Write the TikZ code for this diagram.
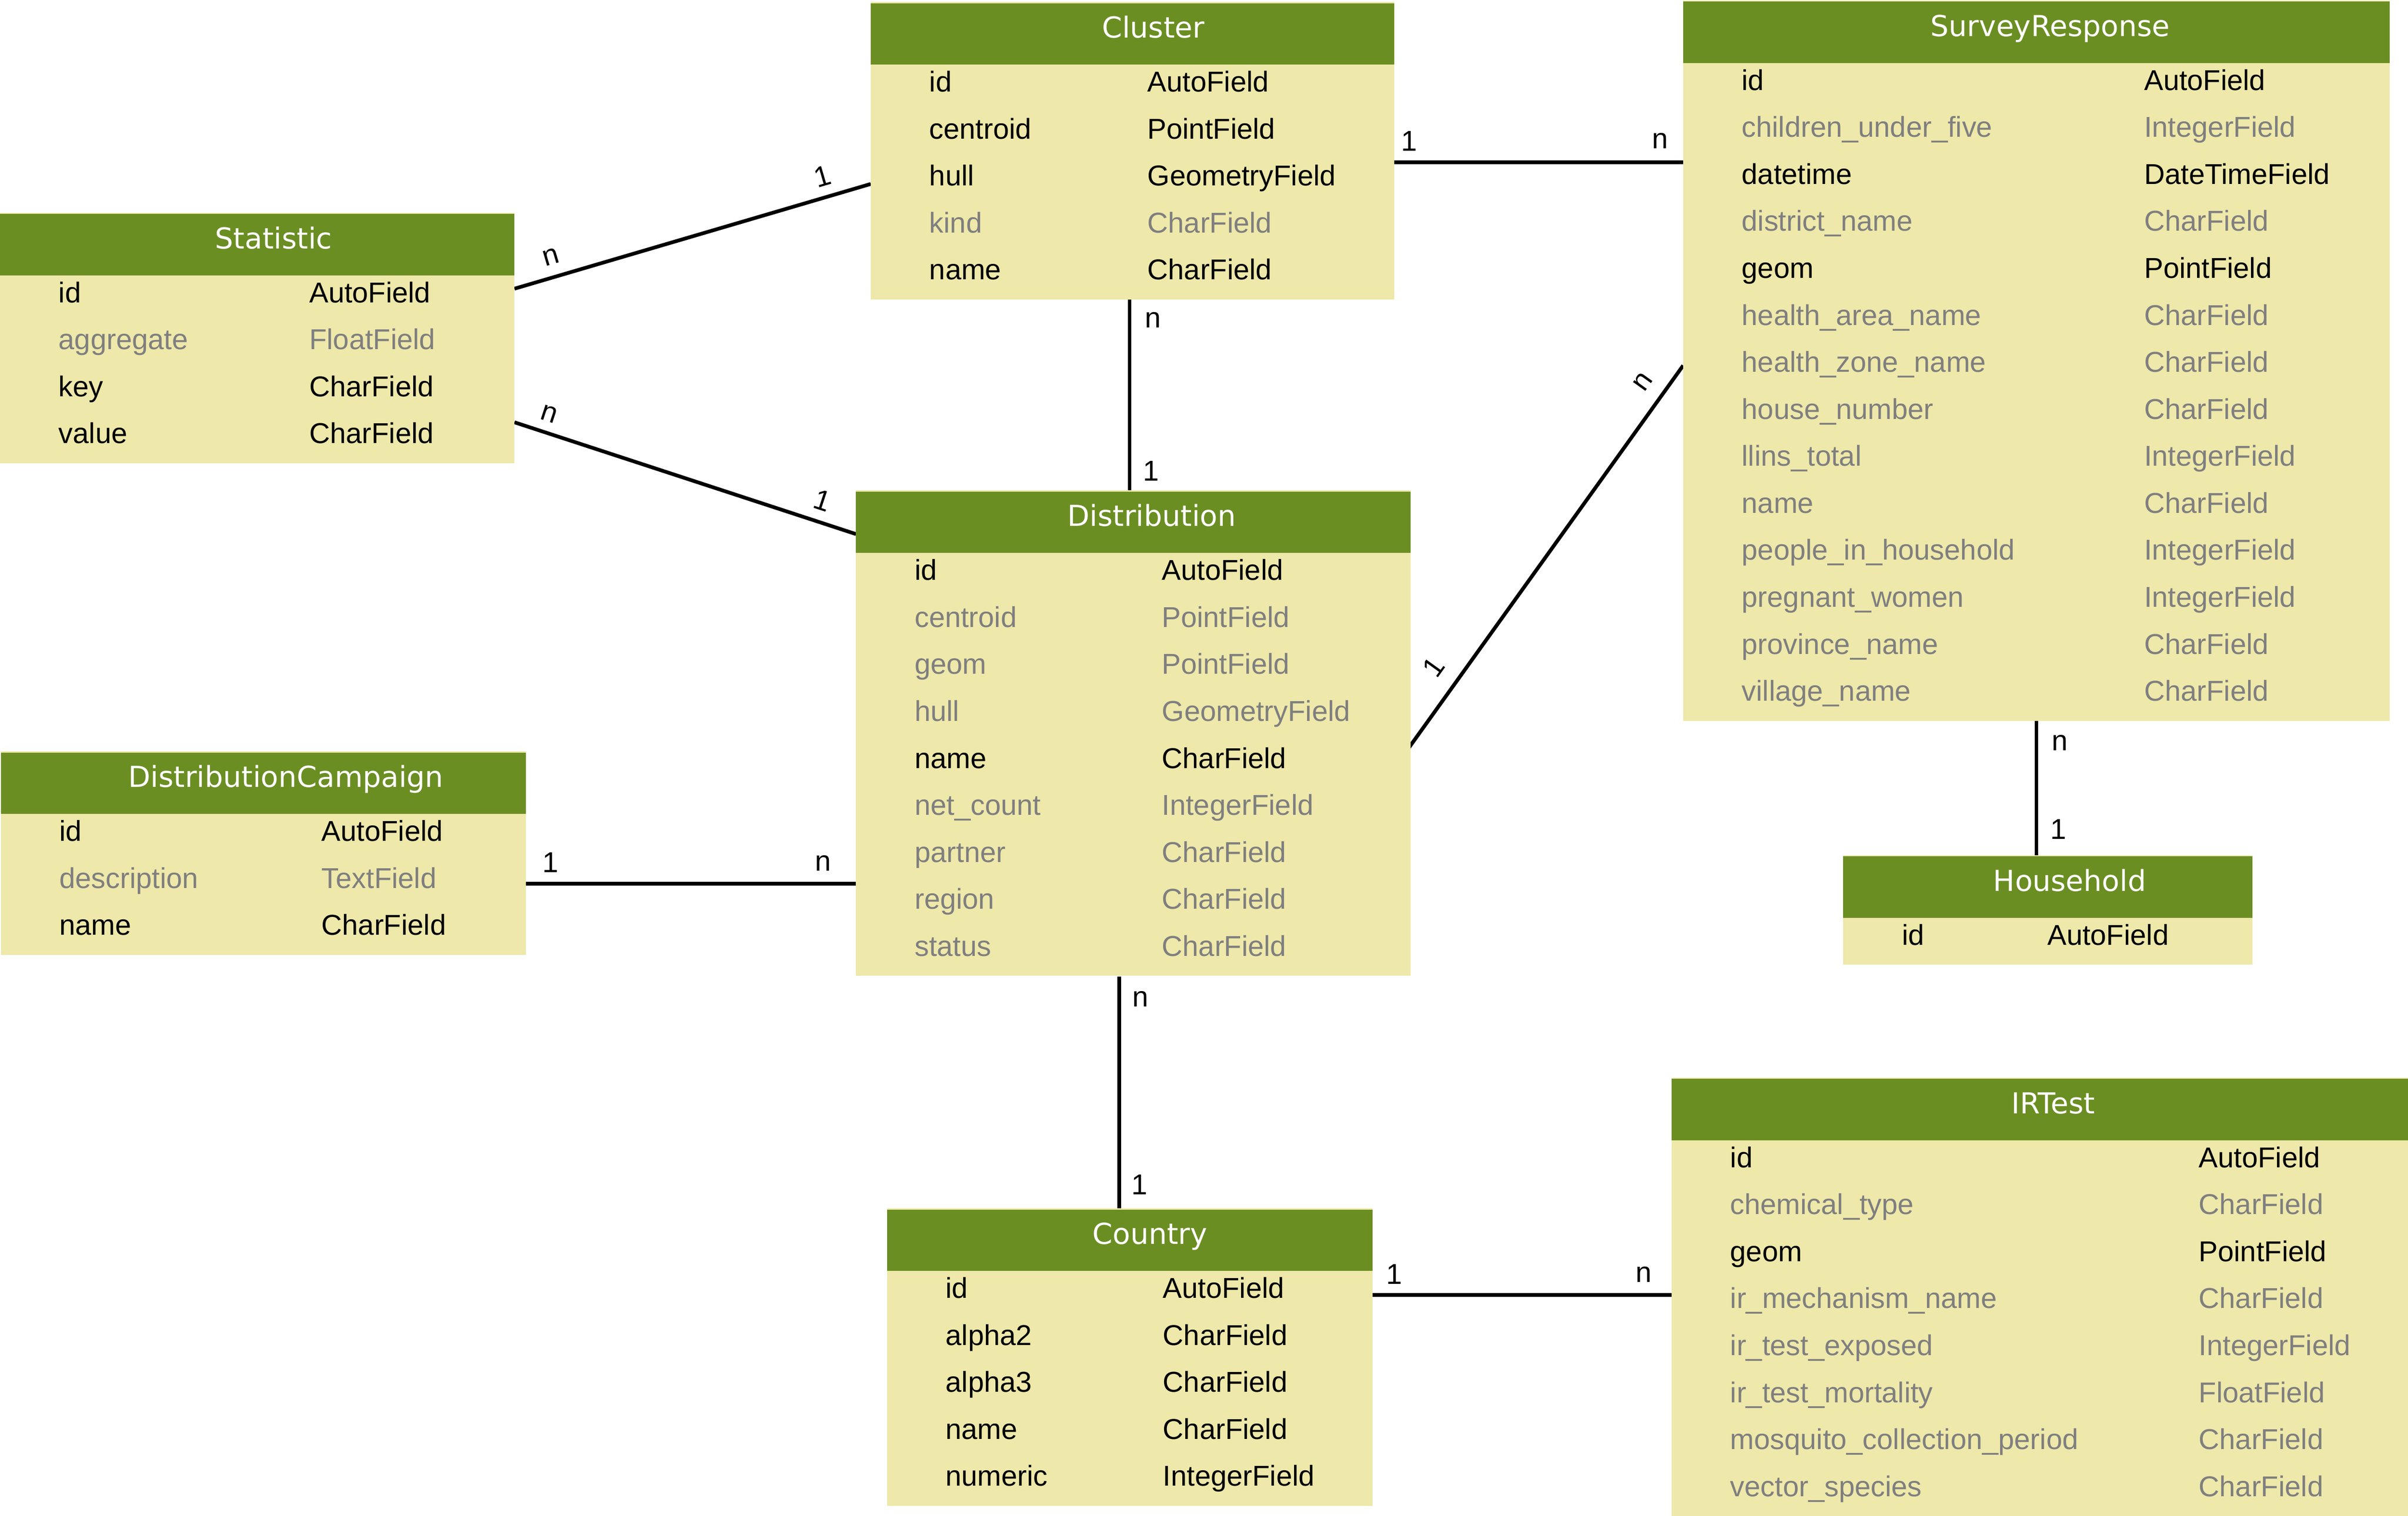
\documentclass[tikz,border=0pt]{standalone}
\usepackage{fontspec}
\setmainfont{Liberation Sans}
\newfontfamily\hdrfont{DejaVu Sans}
\definecolor{hdr}{HTML}{6B8E23}
\definecolor{bdy}{HTML}{EEE8AA}
\definecolor{gry}{HTML}{7F7F7F}
\tikzset{
  tbody/.style={fill=bdy, draw=none, inner sep=0pt, outer sep=0pt, anchor=north west},
  thead/.style={fill=hdr, draw=none, inner sep=0pt, outer sep=0pt, anchor=north west, minimum height=40pt},
  htext/.style={text=white, font=\hdrfont\fontsize{18.8}{22}\selectfont, inner sep=0pt, anchor=base},
  ftext/.style={font=\fontsize{18.7}{22}\selectfont, inner sep=0pt, anchor=base west},
  conn/.style={line width=2.4pt, draw=black},
  card/.style={font=\fontsize{18.7}{22}\selectfont, inner sep=0pt, text=black},
}
% #1 name, #2 x, #3 top, #4 width, #5 rows, #6 title, #7 title centre x
\newcommand\ertable[7]{%
  \node[tbody, minimum width=#4pt, minimum height={(40.8+30.6*#5)*1pt}] (#1) at (#2,{#3-0.8}) {};
  \node[thead, minimum width=#4pt] (#1-head) at (#2,#3) {};
  \node[htext] (#1-title) at (#7,{#3+22.6}) {#6};
}
% #1 name, #2 x, #3 top, #4 type column x, #5 list
\newcommand\errows[5]{%
  \foreach \fn/\ft/\fc [count=\k from 0] in {#5} {
    \node[ftext, text=\fc] (#1-f\k) at ({#2+38},{#3+57.7+30.6*\k}) {\fn};
    \node[ftext, text=\fc] (#1-t\k) at (#4,{#3+57.7+30.6*\k}) {\ft};
  }
}
\begin{document}
\begin{tikzpicture}[x=1pt,y=-1pt]
\useasboundingbox (0,0) rectangle (1568,987);
\clip (0,0) rectangle (1568,987);
\fill[white] (0,0) rectangle (1568,987);

% ---------- connectors ----------
\coordinate (sc1) at (335,188);     \coordinate (sc2) at (567,119.8);
\coordinate (sd1) at (335,275);     \coordinate (sd2) at (557.4,347.8);
\coordinate (cd1) at (735.5,195);   \coordinate (cd2) at (735.5,320.1);
\coordinate (cs1) at (907,105.7);   \coordinate (cs2) at (1096,105.7);
\coordinate (ds1) at (917.5,486.8); \coordinate (ds2) at (1096,238);
\coordinate (pd1) at (342.5,575.5); \coordinate (pd2) at (557.4,575.5);
\coordinate (dc1) at (728.8,636);   \coordinate (dc2) at (728.8,787.6);
\coordinate (sh1) at (1326,469);    \coordinate (sh2) at (1326,557.6);
\coordinate (ci1) at (893.6,843.2); \coordinate (ci2) at (1088.5,843.2);

\draw[conn] (sc1) -- (sc2);
\draw[conn] (sd1) -- (sd2);
\draw[conn] (cd1) -- (cd2);
\draw[conn] (cs1) -- (cs2);
\draw[conn] (ds1) -- (ds2);
\draw[conn] (pd1) -- (pd2);
\draw[conn] (dc1) -- (dc2);
\draw[conn] (sh1) -- (sh2);
\draw[conn] (ci1) -- (ci2);

\node[card, rotate=16.4]  (l-sc-n) at (358.7,167.4) {n};
\node[card, rotate=16.4]  (l-sc-1) at (535.5,114.7) {1};
\node[card, rotate=-18.2] (l-sd-n) at (357.5,269.5) {n};
\node[card, rotate=-18.2] (l-sd-1) at (535.5,326) {1};
\node[card] (l-cd-n) at (750.8,208.5) {n};
\node[card] (l-cd-1) at (749.6,306.6) {1};
\node[card] (l-cs-1) at (917.7,91.8) {1};
\node[card] (l-cs-n) at (1081,91.8) {n};
\node[card, rotate=54.3] (l-ds-n) at (1069.8,248.7) {n};
\node[card, rotate=54.3] (l-ds-1) at (933.4,434.4) {1};
\node[card] (l-pd-1) at (358.5,561.8) {1};
\node[card] (l-pd-n) at (536,562) {n};
\node[card] (l-dc-n) at (742.7,650.5) {n};
\node[card] (l-dc-1) at (741.9,771.4) {1};
\node[card] (l-sh-n) at (1341.2,483.6) {n};
\node[card] (l-sh-1) at (1340.4,540) {1};
\node[card] (l-ci-1) at (907.8,829.8) {1};
\node[card] (l-ci-n) at (1070.3,829.8) {n};

% ---------- tables ----------
\ertable{stat}{0}{139.3}{335}{4}{Statistic}{178.2}
\errows{stat}{0}{139.3}{201.2}{id/AutoField/black, aggregate/FloatField/gry, key/CharField/black, value/CharField/black}

\ertable{clus}{567}{2.1}{341}{5}{Cluster}{751}
\errows{clus}{567}{2.1}{747}{id/AutoField/black, centroid/PointField/black, hull/GeometryField/black, kind/CharField/gry, name/CharField/black}

\ertable{surv}{1096}{1}{460}{14}{SurveyResponse}{1335}
\errows{surv}{1096}{1}{1396}{id/AutoField/black, children\_under\_five/IntegerField/gry, datetime/DateTimeField/black, district\_name/CharField/gry, geom/PointField/black, health\_area\_name/CharField/gry, health\_zone\_name/CharField/gry, house\_number/CharField/gry, llins\_total/IntegerField/gry, name/CharField/gry, people\_in\_household/IntegerField/gry, pregnant\_women/IntegerField/gry, province\_name/CharField/gry, village\_name/CharField/gry}

\ertable{dist}{557.4}{320.1}{361}{9}{Distribution}{750}
\errows{dist}{557.4}{320.1}{756.4}{id/AutoField/black, centroid/PointField/gry, geom/PointField/gry, hull/GeometryField/gry, name/CharField/black, net\_count/IntegerField/gry, partner/CharField/gry, region/CharField/gry, status/CharField/gry}

\ertable{camp}{0.5}{490.1}{342}{3}{DistributionCampaign}{186.2}
\errows{camp}{0.5}{490.1}{209.2}{id/AutoField/black, description/TextField/gry, name/CharField/black}

\ertable{hous}{1200.2}{557.6}{266.6}{1}{Household}{1347.7}
\errows{hous}{1200.2}{557.6}{1333}{id/AutoField/black}

\ertable{ctry}{577.6}{787.6}{316}{5}{Country}{748.8}
\errows{ctry}{577.6}{787.6}{757.1}{id/AutoField/black, alpha2/CharField/black, alpha3/CharField/black, name/CharField/black, numeric/IntegerField/black}

\ertable{irt}{1088.5}{702.5}{500}{8}{IRTest}{1337}
\errows{irt}{1088.5}{702.5}{1431.6}{id/AutoField/black, chemical\_type/CharField/gry, geom/PointField/black, ir\_mechanism\_name/CharField/gry, ir\_test\_exposed/IntegerField/gry, ir\_test\_mortality/FloatField/gry, mosquito\_collection\_period/CharField/gry, vector\_species/CharField/gry}
\end{tikzpicture}
\end{document}
